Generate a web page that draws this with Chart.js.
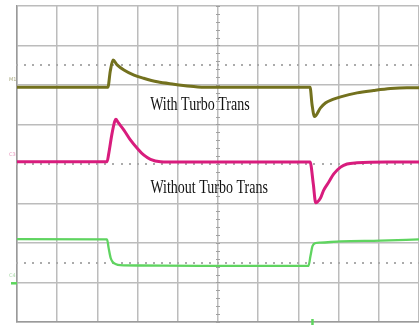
<!DOCTYPE html>
<html>
<head>
<meta charset="utf-8">
<script src="https://cdn.jsdelivr.net/npm/chart.js@4.4.1/dist/chart.umd.min.js"></script>
<style>
  html, body { margin: 0; padding: 0; background: #fff; }
  #scope { display: block; }
</style>
</head>
<body>
<canvas id="scope" width="419" height="325"></canvas>
<script>
// values in scope divisions: x = time div from centre, y = div from centre (up +)
const oliveTime = [-5, -3.9, -2.74, -2.68, -2.61, -2.51, -2.34, -2.09, -1.85, -1.51, -1.10, -0.68, -0.27, 0.5, 1.5, 2.29, 2.34, 2.40, 2.55, 2.68, 2.84, 3.05, 3.46, 3.87, 4.29, 4.70, 5];
const oliveVolts = [1.94, 1.94, 1.94, 2.35, 2.63, 2.51, 2.38, 2.25, 2.17, 2.08, 2.02, 1.97, 1.94, 1.94, 1.94, 1.94, 1.50, 1.20, 1.42, 1.55, 1.63, 1.70, 1.80, 1.86, 1.91, 1.93, 1.93];

const magentaTime = [-5, -3.5, -2.76, -2.72, -2.64, -2.57, -2.54, -2.49, -2.34, -2.18, -2.01, -1.85, -1.68, -1.43, -1.0, 1.0, 2.29, 2.37, 2.43, 2.55, 2.63, 2.76, 2.88, 3.05, 3.21, 3.46, 4.2, 5];
const magentaVolts = [0.06, 0.06, 0.06, 0.25, 0.75, 1.08, 1.13, 1.06, 0.86, 0.61, 0.40, 0.23, 0.12, 0.06, 0.05, 0.05, 0.05, -0.50, -0.98, -0.86, -0.66, -0.45, -0.25, -0.08, 0.0, 0.03, 0.05, 0.05];

const greenTime = [-5, -2.76, -2.72, -2.67, -2.62, -2.55, -2.43, -1.93, -0.44, 2.25, 2.30, 2.35, 2.43, 2.55, 3.05, 4.04, 5];
const greenVolts = [-1.90, -1.91, -2.13, -2.38, -2.48, -2.53, -2.56, -2.57, -2.58, -2.58, -2.33, -2.08, -2.00, -1.99, -1.96, -1.94, -1.91];

const xTicks = [-5, -4, -3, -2, -1, 0, 1, 2, 3, 4, 5];
const yTicks = [-4, -3, -2, -1, 0, 1, 2, 3, 4];
const dottedLevels = [2.5, 0, -2.5];

const labelTop = 'With Turbo Trans';
const labelBottom = 'Without Turbo Trans';

const toPoints = (xs, ys) => xs.map((x, i) => ({ x: x, y: ys[i] }));

// scope decorations: dotted levels, centre ticks, texts, markers
const scopeDecor = {
    id: 'scopeDecor',
    beforeDatasetsDraw(chart) {
        const { ctx, scales: { x, y } } = chart;
        ctx.save();
        ctx.fillStyle = '#ababab';
        dottedLevels.forEach(lv => {
            const py = y.getPixelForValue(lv);
            for (let t = -5; t <= 5.001; t += 0.2) {
                ctx.fillRect(Math.round(x.getPixelForValue(t)) - 1, Math.round(py) - 1, 2, 2);
            }
        });
        // minor ticks on the centre vertical line
        ctx.strokeStyle = '#a0a0a0';
        ctx.lineWidth = 1;
        const cx = x.getPixelForValue(0);
        for (let v = -4; v <= 4.001; v += 0.2) {
            const py = Math.round(y.getPixelForValue(v)) + 0.5;
            ctx.beginPath();
            ctx.moveTo(cx - 2, py);
            ctx.lineTo(cx + 2, py);
            ctx.stroke();
        }
        ctx.restore();
    },
    afterDatasetsDraw(chart) {
        const { ctx, scales: { x, y } } = chart;
        ctx.save();
        ctx.fillStyle = '#111';
        ctx.font = '14px "Liberation Serif", "Times New Roman", serif';
        ctx.textAlign = 'center';
        ctx.textBaseline = 'alphabetic';
        const drawTall = (txt, xv, yv) => {
            ctx.save();
            ctx.translate(x.getPixelForValue(xv), y.getPixelForValue(yv));
            ctx.scale(1, 1.4);
            ctx.fillText(txt, 0, 0);
            ctx.restore();
        };
        drawTall(labelTop, -0.45, 1.37);
        drawTall(labelBottom, -0.22, -0.73);

        // channel ground markers at the left edge
        const left = chart.chartArea.left;
        ctx.font = '5px "DejaVu Sans", sans-serif';
        ctx.textAlign = 'left';
        ctx.fillStyle = 'rgba(110,110,40,0.6)';
        ctx.fillText('M1', left - 8, y.getPixelForValue(2.1));
        ctx.fillStyle = 'rgba(210,40,120,0.5)';
        ctx.fillText('C3', left - 8, y.getPixelForValue(0.2));
        ctx.fillStyle = 'rgba(80,180,80,0.5)';
        ctx.fillText('C4', left - 8, y.getPixelForValue(-2.85));
        ctx.strokeStyle = '#5cd65c';
        ctx.lineWidth = 2.5;
        ctx.beginPath();
        ctx.moveTo(left - 6, y.getPixelForValue(-3.02));
        ctx.lineTo(left, y.getPixelForValue(-3.02));
        ctx.stroke();

        // trigger marker at the bottom
        const tx = x.getPixelForValue(2.35);
        ctx.beginPath();
        ctx.moveTo(tx, chart.chartArea.bottom - 3);
        ctx.lineTo(tx, chart.chartArea.bottom + 3);
        ctx.stroke();
        ctx.restore();
    }
};

const gridColor = c => (c.tick && c.tick.value === 0 && c.scale.axis === 'y') ? 'rgba(0,0,0,0)' : '#bcbcbc';

new Chart(document.getElementById('scope'), {
    type: 'line',
    data: {
        datasets: [
            {
                label: 'Ch1',
                data: toPoints(oliveTime, oliveVolts),
                borderColor: '#73711e',
                borderWidth: 3,
                cubicInterpolationMode: 'monotone',
                pointRadius: 0,
            },
            {
                label: 'Ch3',
                data: toPoints(magentaTime, magentaVolts),
                borderColor: '#d81c7d',
                borderWidth: 3,
                cubicInterpolationMode: 'monotone',
                pointRadius: 0,
            },
            {
                label: 'Ch4',
                data: toPoints(greenTime, greenVolts),
                borderColor: '#5fd460',
                borderWidth: 2.3,
                cubicInterpolationMode: 'monotone',
                pointRadius: 0,
            },
        ],
    },
    options: {
        responsive: false,
        animation: false,
        devicePixelRatio: 1,
        layout: { padding: { left: 17, top: 6, right: 0, bottom: 3 } },
        plugins: { legend: { display: false }, tooltip: { enabled: false } },
        scales: {
            x: {
                type: 'linear',
                min: -5,
                max: 5,
                afterBuildTicks: s => { s.ticks = xTicks.map(v => ({ value: v })); },
                ticks: { display: false },
                grid: { color: gridColor, lineWidth: 1.5, drawTicks: false },
                border: { display: true, color: '#9a9a9a', width: 1.5 },
            },
            y: {
                type: 'linear',
                min: -4,
                max: 4,
                afterBuildTicks: s => { s.ticks = yTicks.map(v => ({ value: v })); },
                ticks: { display: false },
                grid: { color: gridColor, lineWidth: 1.5, drawTicks: false },
                border: { display: true, color: '#9a9a9a', width: 1.5 },
            },
        },
    },
    plugins: [scopeDecor],
});
</script>
</body>
</html>
